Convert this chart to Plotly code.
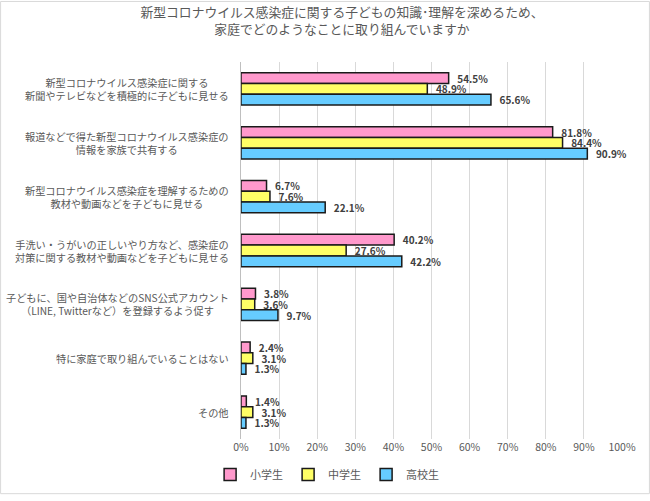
import plotly.graph_objects as go

categories = [
    "新型コロナウイルス感染症に関する<br>新聞やテレビなどを積極的に子どもに見せる",
    "報道などで得た新型コロナウイルス感染症の<br>情報を家族で共有する",
    "新型コロナウイルス感染症を理解するための<br>教材や動画などを子どもに見せる",
    "手洗い・うがいの正しいやり方など、感染症の<br>対策に関する教材や動画などを子どもに見せる",
    "子どもに、国や自治体などのSNS公式アカウント<br>（LINE, Twitterなど）を登録するよう促す",
    "特に家庭で取り組んでいることはない",
    "その他",
]
series_names = ["小学生", "中学生", "高校生"]
elementary = [54.5, 81.8, 6.7, 40.2, 3.8, 2.4, 1.4]
junior = [48.9, 84.4, 7.6, 27.6, 3.6, 3.1, 3.1]
high = [65.6, 90.9, 22.1, 42.2, 9.7, 1.3, 1.3]
colors = ["#FF99CC", "#FFFF66", "#66CCFF"]
x_ticks = [0, 10, 20, 30, 40, 50, 60, 70, 80, 90, 100]

FONT = "Noto Sans CJK JP"
PAD = "<span style='color:rgba(0,0,0,0)'>_</span>"
fig = go.Figure()
for name, vals, col in zip(series_names, [elementary, junior, high], colors):
    fig.add_trace(go.Bar(
        y=categories, x=vals, name=name, orientation="h",
        marker=dict(color=col, line=dict(color="#1a1a1a", width=1.5)),
        text=[f"{PAD}<b>{v:.1f}%</b>" for v in vals],
        textposition="outside", constraintext="none",
        textfont=dict(size=10, color="#404040", family=FONT),
        cliponaxis=False,
    ))

for c in categories:
    fig.add_annotation(
        x=-0.026, xref="paper", y=c, yref="y", text=c, showarrow=False,
        xanchor="right", yanchor="middle", align="center",
        font=dict(size=10.2, color="#595959", family=FONT),
    )

fig.add_shape(type="rect", xref="paper", yref="paper",
              x0=-0.631, x1=1.072, y0=-0.145, y1=1.1606,
              line=dict(color="#D9D9D9", width=1), fillcolor="rgba(0,0,0,0)", layer="below")

fig.update_layout(
    width=650, height=501,
    margin=dict(l=241, r=28, t=62, b=56),
    paper_bgcolor="white", plot_bgcolor="white",
    barmode="group", bargap=0.4, bargroupgap=0,
    font=dict(family=FONT, color="#595959", size=11),
    title=dict(
        text="新型コロナウイルス感染症に関する子どもの知識･理解を深めるため、<br>家庭でどのようなことに取り組んでいますか",
        x=342 / 650, xanchor="center", y=1 - 17 / 501, yanchor="top",
        font=dict(size=12.8, color="#595959", family=FONT),
    ),
    legend=dict(orientation="h", x=0.226, xanchor="center", y=-0.094, yanchor="middle",
                font=dict(size=11, color="#595959", family=FONT), itemwidth=30,
                traceorder="normal"),
    showlegend=True,
)
fig.update_xaxes(range=[0, 100], tickmode="array", tickvals=x_ticks,
                 ticktext=[f"{v}%" for v in x_ticks],
                 showgrid=True, gridcolor="#D9D9D9", gridwidth=1,
                 zeroline=False, showline=False,
                 tickfont=dict(size=10.5, color="#595959", family=FONT))
fig.update_yaxes(autorange="reversed", showticklabels=False, showgrid=False,
                 showline=True, linecolor="#BFBFBF", linewidth=1, ticks="")

fig.write_html("out.html")
